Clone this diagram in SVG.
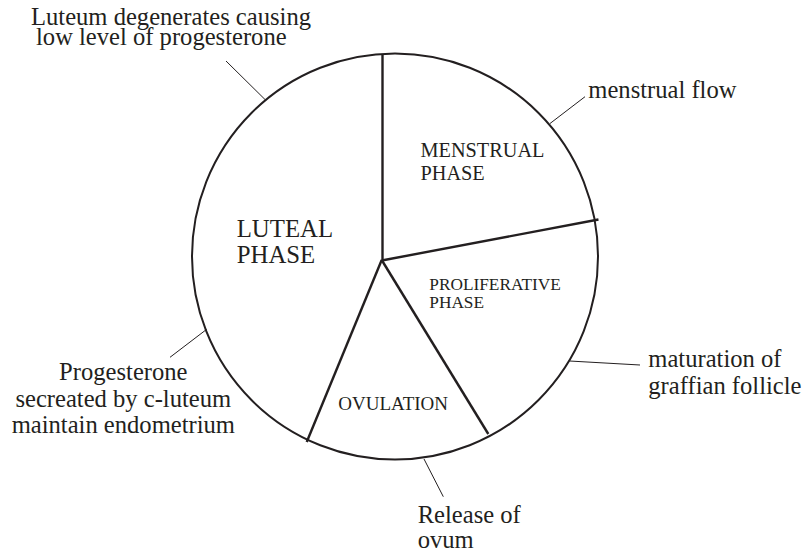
<svg xmlns="http://www.w3.org/2000/svg" width="803" height="556" viewBox="0 0 803 556">
<style>
text{font-family:"Liberation Serif","Times New Roman",serif;fill:#231f20}
.lbl{font-size:24.6px}
.thin{stroke:#231f20;stroke-width:1;fill:none}
.spoke{stroke:#231f20;stroke-width:2.4;fill:none;stroke-linecap:butt}
</style>
<rect width="803" height="556" fill="#fff"/>
<g id="circle">
<circle cx="395" cy="256.5" r="203" fill="none" stroke="#231f20" stroke-width="2"/>
</g>
<g id="connectors">
<line class="spoke" x1="382.5" y1="54" x2="382.5" y2="260.5"/>
<line class="spoke" x1="381.7" y1="260.5" x2="598.5" y2="219.5"/>
<line class="spoke" x1="381.7" y1="260" x2="306.7" y2="442"/>
<line class="spoke" x1="381.7" y1="260" x2="488.3" y2="434"/>
<line class="thin" x1="226" y1="61" x2="265" y2="99.5"/>
<line class="thin" x1="550" y1="123.5" x2="585" y2="96.7"/>
<line class="thin" x1="569.5" y1="361" x2="640" y2="365"/>
<line class="thin" x1="170" y1="357.3" x2="206.7" y2="329.3"/>
<line class="thin" x1="424" y1="459" x2="443.3" y2="496.7"/>
</g>
<g id="menstrual-phase">
<text x="420.5" y="157" font-size="20.3">MENSTRUAL</text>
<text x="420.5" y="180" font-size="20.3">PHASE</text>
</g>
<g id="proliferative-phase">
<text x="429.3" y="290" font-size="17.3">PROLIFERATIVE</text>
<text x="429.3" y="308.3" font-size="17.3">PHASE</text>
</g>
<g id="ovulation">
<text x="338.3" y="410" font-size="19">OVULATION</text>
</g>
<g id="luteal-phase">
<text x="236.7" y="236.7" font-size="24.8">LUTEAL</text>
<text x="236.7" y="262.7" font-size="24.8">PHASE</text>
</g>
<g id="label-luteum">
<text class="lbl" x="31" y="25">Luteum degenerates causing</text>
<text class="lbl" x="36" y="44.5">low level of progesterone</text>
</g>
<g id="label-menstrual-flow">
<text class="lbl" x="588.3" y="98">menstrual flow</text>
</g>
<g id="label-maturation">
<text class="lbl" x="648.3" y="366.7">maturation of</text>
<text class="lbl" x="648.3" y="394">graffian follicle</text>
</g>
<g id="label-progesterone" text-anchor="middle">
<text class="lbl" x="123.3" y="380">Progesterone</text>
<text class="lbl" x="123.3" y="407.3">secreated by c-luteum</text>
<text class="lbl" x="123.3" y="433.3">maintain endometrium</text>
</g>
<g id="label-release">
<text class="lbl" x="417.7" y="522.7">Release of</text>
<text class="lbl" x="417.7" y="548.3">ovum</text>
</g>
</svg>
